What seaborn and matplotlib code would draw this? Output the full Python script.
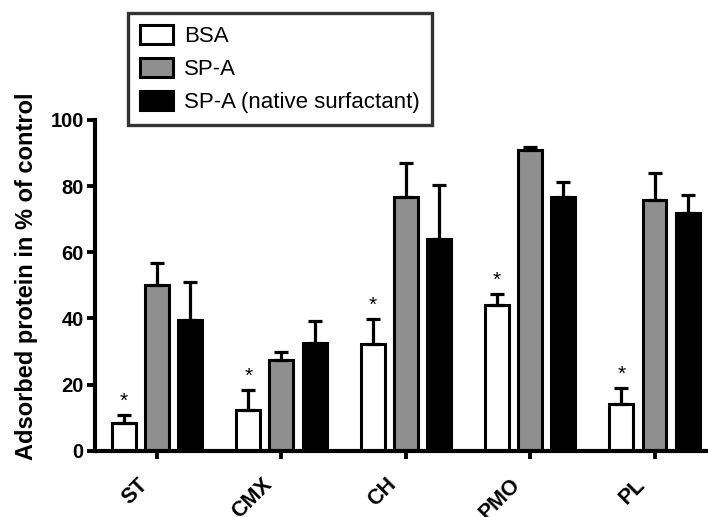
import matplotlib
matplotlib.use("Agg")
import matplotlib.pyplot as plt
import matplotlib.transforms as mtransforms
import seaborn as sns
import pandas as pd
from matplotlib.patches import Patch

# Adsorbed protein (% of control) per surface, mean and upper SEM
surfaces = ["ST", "CMX", "CH", "PMO", "PL"]
groups = ["BSA", "SP-A", "SP-A (native surfactant)"]
bsa_mean = [8.5, 12.2, 32.3, 44.1, 14.2]
bsa_err = [2.2, 6.2, 7.6, 3.3, 4.9]
spa_mean = [50.0, 27.3, 76.8, 90.9, 75.8]
spa_err = [6.8, 2.6, 10.2, 1.0, 8.3]
native_mean = [39.6, 32.6, 64.0, 76.8, 71.8]
native_err = [11.4, 6.7, 16.4, 4.5, 5.5]
significant = ["BSA"]  # marked with * on every surface

colors = ["#ffffff", "#8f8f8f", "#000000"]

means = [bsa_mean, spa_mean, native_mean]
errs = [bsa_err, spa_err, native_err]
rows = []
for g, m, e in zip(groups, means, errs):
    for s, v, d in zip(surfaces, m, e):
        rows.append({"surface": s, "group": g, "value": v, "err": d})
df = pd.DataFrame(rows)

sns.set_theme(style="ticks")
plt.rcParams["font.family"] = ["Liberation Sans", "DejaVu Sans"]
plt.rcParams["text.color"] = "black"
plt.rcParams["axes.labelcolor"] = "black"
plt.rcParams["xtick.color"] = "black"
plt.rcParams["ytick.color"] = "black"

fig = plt.figure(figsize=(7.08, 5.17), dpi=100)
ax = fig.add_axes([0.134, 0.128, 0.866, 0.640])

sns.barplot(data=df, x="surface", y="value", hue="group", order=surfaces,
            hue_order=groups, palette=colors, width=0.8, gap=0.28,
            edgecolor="black", linewidth=2.2, errorbar=None, legend=False,
            ax=ax)

lw = 2.3
for container, g in zip(ax.containers, groups):
    sub = df[df["group"] == g].set_index("surface").loc[surfaces]
    xs = [p.get_x() + p.get_width() / 2 for p in container.patches]
    ax.errorbar(xs, sub["value"], yerr=[[0] * len(xs), sub["err"]],
                fmt="none", ecolor="black", elinewidth=lw, capsize=5,
                capthick=lw, zorder=1)
    if g in significant:
        for x, v, e in zip(xs, sub["value"], sub["err"]):
            ax.annotate("*", (x, v + e), xytext=(0, 3),
                        textcoords="offset points", ha="center",
                        va="bottom", fontsize=15, color="black")

ax.set_ylim(0, 100)
ax.set_xlim(-0.5, 4.43)
ax.set_yticks([0, 20, 40, 60, 80, 100])
ax.set_xlabel("")
ax.set_ylabel("Adsorbed protein in % of control", fontsize=17,
              fontweight="bold")
ax.yaxis.set_label_coords(-0.093, 0.527)
ax.tick_params(axis="both", width=lw * 1.2, length=6, color="black",
               labelcolor="black", labelsize=14.5, pad=2)
ax.tick_params(axis="x", labelsize=15.5)
for lbl in ax.get_yticklabels():
    lbl.set_fontweight("bold")
shift = mtransforms.ScaledTranslation(-0.20, -0.12, fig.dpi_scale_trans)
for lbl in ax.get_xticklabels():
    lbl.set_fontweight("bold")
    lbl.set_rotation(45)
    lbl.set_ha("right")
    lbl.set_rotation_mode("anchor")
    lbl.set_transform(lbl.get_transform() + shift)
sns.despine(ax=ax)
for side in ["left", "bottom"]:
    ax.spines[side].set_linewidth(lw * 1.3)
    ax.spines[side].set_color("black")

handles = [Patch(facecolor=c, edgecolor="black", linewidth=2.2) for c in colors]
leg = fig.legend(handles, groups, loc="upper left",
                 bbox_to_anchor=(0.181, 0.975), borderaxespad=0,
                 fontsize=16, frameon=True, fancybox=False,
                 handlelength=1.45, handleheight=0.9, labelspacing=0.5,
                 borderpad=0.55, handletextpad=0.5)
leg.get_frame().set_edgecolor("black")
leg.get_frame().set_linewidth(2.4)
leg.set_zorder(5)
for t in leg.get_texts():
    t.set_color("black")

fig.savefig("out.png", dpi=100)
